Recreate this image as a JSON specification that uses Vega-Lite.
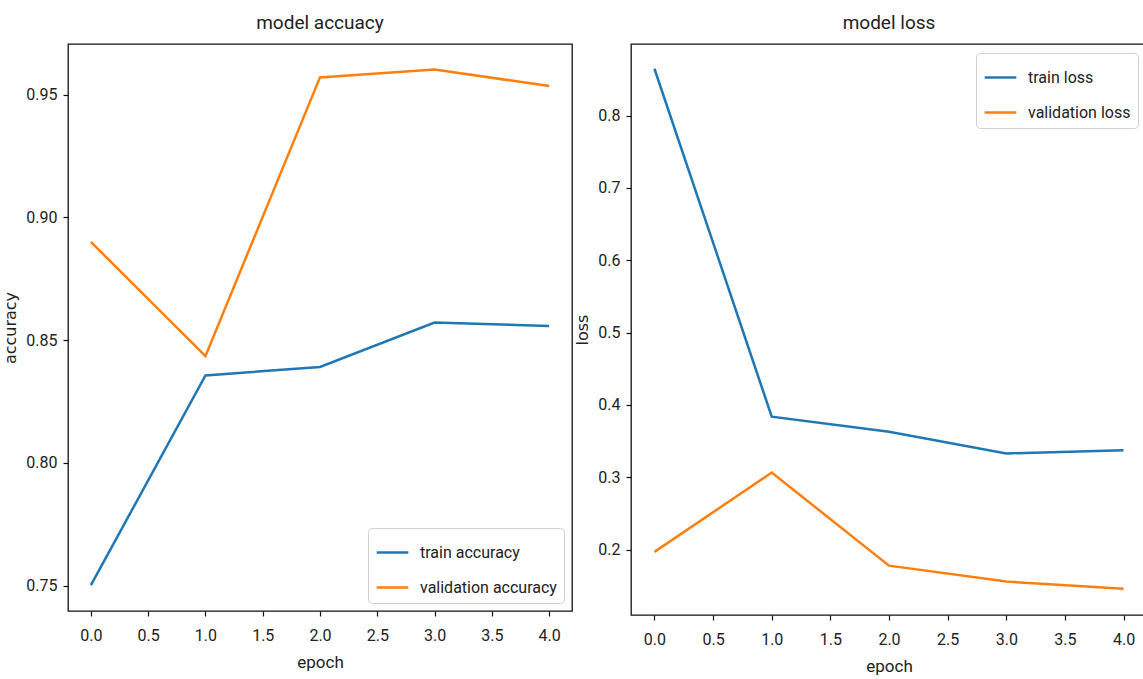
{
  "$schema": "https://vega.github.io/schema/vega-lite/v6.json",
  "padding": {"left": 2, "top": 13, "right": 0, "bottom": 0},
  "background": "white",
  "datasets": {
    "acc": [
      {"epoch": 0, "value": 0.7502, "series": "train accuracy"},
      {"epoch": 1, "value": 0.8356, "series": "train accuracy"},
      {"epoch": 2, "value": 0.8391, "series": "train accuracy"},
      {"epoch": 3, "value": 0.8572, "series": "train accuracy"},
      {"epoch": 4, "value": 0.8558, "series": "train accuracy"},
      {"epoch": 0, "value": 0.8900, "series": "validation accuracy"},
      {"epoch": 1, "value": 0.8435, "series": "validation accuracy"},
      {"epoch": 2, "value": 0.9570, "series": "validation accuracy"},
      {"epoch": 3, "value": 0.9602, "series": "validation accuracy"},
      {"epoch": 4, "value": 0.9535, "series": "validation accuracy"}
    ],
    "loss": [
      {"epoch": 0, "value": 0.8646, "series": "train loss"},
      {"epoch": 1, "value": 0.3839, "series": "train loss"},
      {"epoch": 2, "value": 0.3629, "series": "train loss"},
      {"epoch": 3, "value": 0.3331, "series": "train loss"},
      {"epoch": 4, "value": 0.3373, "series": "train loss"},
      {"epoch": 0, "value": 0.1970, "series": "validation loss"},
      {"epoch": 1, "value": 0.3066, "series": "validation loss"},
      {"epoch": 2, "value": 0.1780, "series": "validation loss"},
      {"epoch": 3, "value": 0.1560, "series": "validation loss"},
      {"epoch": 4, "value": 0.1460, "series": "validation loss"}
    ]
  },
  "hconcat": [
    {
      "width": 504,
      "height": 567,
      "title": "model accuacy",
      "data": {"name": "acc"},
      "mark": {"type": "line", "strokeWidth": 2.5},
      "encoding": {
        "x": {
          "field": "epoch", "type": "quantitative", "title": "epoch",
          "scale": {"domain": [-0.2, 4.2], "nice": false, "zero": false},
          "axis": {"values": [0, 0.5, 1, 1.5, 2, 2.5, 3, 3.5, 4], "format": ".1f"}
        },
        "y": {
          "field": "value", "type": "quantitative", "title": "accuracy",
          "scale": {"domain": [0.7397, 0.9706], "nice": false, "zero": false},
          "axis": {"values": [0.75, 0.8, 0.85, 0.9, 0.95], "format": ".2f"}
        },
        "color": {
          "field": "series", "type": "nominal",
          "scale": {"domain": ["train accuracy", "validation accuracy"], "range": ["#1f77b4", "#ff7f0e"]},
          "legend": {"title": null, "orient": "bottom-right", "offset": 8}
        }
      }
    },
    {
      "width": 516,
      "height": 571,
      "title": "model loss",
      "data": {"name": "loss"},
      "mark": {"type": "line", "strokeWidth": 2.5},
      "encoding": {
        "x": {
          "field": "epoch", "type": "quantitative", "title": "epoch",
          "scale": {"domain": [-0.2, 4.2], "nice": false, "zero": false},
          "axis": {"values": [0, 0.5, 1, 1.5, 2, 2.5, 3, 3.5, 4], "format": ".1f"}
        },
        "y": {
          "field": "value", "type": "quantitative", "title": "loss",
          "scale": {"domain": [0.1098, 0.8988], "nice": false, "zero": false},
          "axis": {"values": [0.2, 0.3, 0.4, 0.5, 0.6, 0.7, 0.8], "format": ".1f"}
        },
        "color": {
          "field": "series", "type": "nominal",
          "scale": {"domain": ["train loss", "validation loss"], "range": ["#1f77b4", "#ff7f0e"]},
          "legend": {"title": null, "orient": "top-right", "offset": 9}
        }
      }
    }
  ],
  "spacing": 59,
  "bounds": "flush",
  "resolve": {"scale": {"color": "independent"}, "legend": {"color": "independent"}},
  "config": {
    "font": "Roboto",
    "view": {"stroke": "#111", "strokeWidth": 1.3},
    "title": {"fontSize": 19, "fontWeight": "normal", "color": "#222", "offset": 11, "font": "Roboto"},
    "axis": {
      "grid": false,
      "domain": false,
      "tickColor": "#111",
      "tickSize": 5,
      "tickWidth": 1.2,
      "labelFont": "Roboto",
      "labelFontSize": 16,
      "labelColor": "#222",
      "labelPadding": 6,
      "titleFont": "Roboto",
      "titleFontSize": 17,
      "titleFontWeight": "normal",
      "titleColor": "#222"
    },
    "axisX": {"titlePadding": 11, "labelPadding": 11},
    "axisY": {"titlePadding": 7, "titleFont": "DejaVu Sans", "titleFontSize": 16},
    "legend": {
      "fillColor": "white",
      "strokeColor": "#d0d0d0",
      "cornerRadius": 4,
      "padding": 7,
      "symbolType": "stroke",
      "symbolSize": 1000,
      "symbolStrokeWidth": 2.5,
      "labelFont": "Roboto",
      "labelFontSize": 16,
      "labelColor": "#222",
      "rowPadding": 9,
      "labelOffset": 10
    }
  }
}
